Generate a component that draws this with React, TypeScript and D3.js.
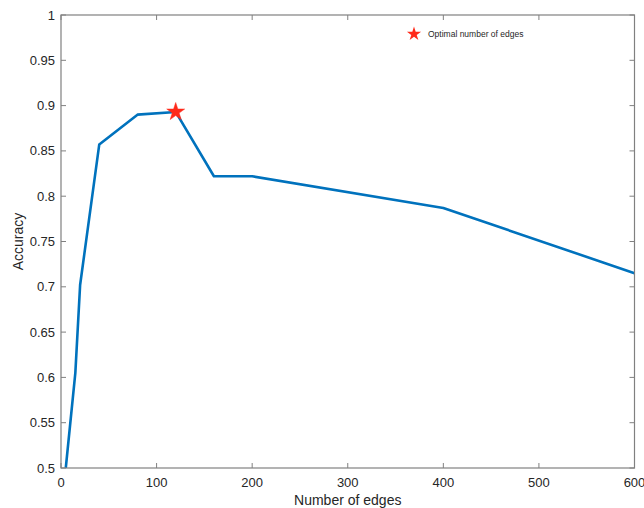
import React from "react";
import * as d3 from "d3";

const edges = [5, 15, 20, 40, 80, 120, 160, 200, 400, 600];
const accuracy = [0.5, 0.605, 0.702, 0.857, 0.89, 0.893, 0.822, 0.822, 0.787, 0.715];
const optimalEdges = [120];
const optimalAccuracy = [0.893];
const xTicks = [0, 100, 200, 300, 400, 500, 600];
const yTicks = [0.5, 0.55, 0.6, 0.65, 0.7, 0.75, 0.8, 0.85, 0.9, 0.95, 1];
const legendLabel = "Optimal number of edges";
const xLabel = "Number of edges";
const yLabel = "Accuracy";

const W = 644;
const H = 508;
const m = { left: 61, right: 9.5, top: 15, bottom: 40 };
const font = "'Liberation Sans', Arial, Helvetica, sans-serif";
const axisColor = "#808080";
const textColor = "#262626";

export default function App() {
  const x = d3.scaleLinear().domain([0, 600]).range([m.left, W - m.right]);
  const y = d3.scaleLinear().domain([0.5, 1]).range([H - m.bottom, m.top]);
  const line = d3
    .line<number>()
    .x((_, i) => x(edges[i]))
    .y((d) => y(d));
  const starBig = d3.symbol(d3.symbolStar, 100)() as string;
  const starSmall = d3.symbol(d3.symbolStar, 62)() as string;
  const x0 = x(0), x1 = x(600), y0 = y(0.5), y1 = y(1);
  const tl = 5;
  return (
    <svg width={W} height={H} style={{ position: "absolute", left: 0, top: 0, background: "#fff" }}>
      <defs>
        <clipPath id="plotclip">
          <rect x={x0} y={y1} width={x1 - x0} height={y0 - y1} />
        </clipPath>
      </defs>
      <rect x={0} y={0} width={W} height={H} fill="#fff" />
      <g clipPath="url(#plotclip)">
        <path d={line(accuracy) as string} fill="none" stroke="#0072BD" strokeWidth={2.6} strokeLinejoin="round" />
      </g>
      {/* box */}
      <rect x={x0} y={y1} width={x1 - x0} height={y0 - y1} fill="none" stroke={axisColor} strokeWidth={1.2} />
      {xTicks.map((t) => (
        <g key={"x" + t}>
          <line x1={x(t)} x2={x(t)} y1={y0} y2={y0 - tl} stroke={axisColor} strokeWidth={1} />
          <line x1={x(t)} x2={x(t)} y1={y1} y2={y1 + tl} stroke={axisColor} strokeWidth={1} />
          <text x={x(t)} y={y0 + 19} textAnchor="middle" fontFamily={font} fontSize={13} fill={textColor}>
            {t}
          </text>
        </g>
      ))}
      {yTicks.map((t) => (
        <g key={"y" + t}>
          <line x1={x0} x2={x0 + tl} y1={y(t)} y2={y(t)} stroke={axisColor} strokeWidth={1} />
          <line x1={x1} x2={x1 - tl} y1={y(t)} y2={y(t)} stroke={axisColor} strokeWidth={1} />
          <text x={x0 - 6} y={y(t)} dy="0.35em" textAnchor="end" fontFamily={font} fontSize={13} fill={textColor}>
            {String(t)}
          </text>
        </g>
      ))}
      <text x={(x0 + x1) / 2} y={H - 3} textAnchor="middle" fontFamily={font} fontSize={14} fill={textColor}>
        {xLabel}
      </text>
      <text
        transform={`translate(18,${(y0 + y1) / 2}) rotate(-90)`}
        textAnchor="middle"
        dy="0.35em"
        fontFamily={font}
        fontSize={14}
        fill={textColor}
      >
        {yLabel}
      </text>
      {optimalEdges.map((e, i) => (
        <path key={"s" + i} d={starBig} transform={`translate(${x(e)},${y(optimalAccuracy[i])})`} fill="#FF2A1A" stroke="#FF2A1A" strokeWidth={0.5} />
      ))}
      <path d={starSmall} transform="translate(414,34)" fill="#FF2A1A" />
      <text x={428} y={34} dy="0.35em" fontFamily={font} fontSize={8.5} fill={textColor}>
        {legendLabel}
      </text>
    </svg>
  );
}
